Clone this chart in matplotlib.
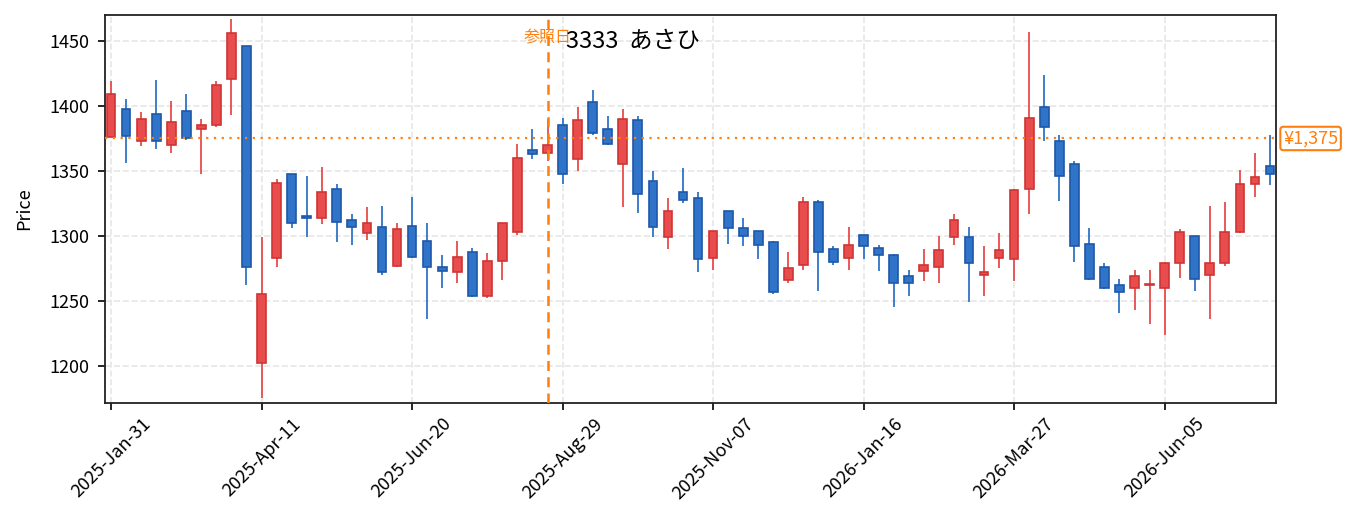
import numpy as np
import pandas as pd
import matplotlib
matplotlib.use("Agg")
import matplotlib.pyplot as plt
import matplotlib.transforms as mtransforms

plt.rcParams['font.family'] = ['Noto Sans CJK JP', 'DejaVu Sans']

ticker_title = "3333  あさひ"
start_date = "2025-01-31"
ref_index = 29
ref_price = 1375

opens = [1376, 1398, 1373, 1394, 1370, 1396, 1382, 1385, 1421, 1446,
         1202, 1283, 1348, 1315, 1314, 1336, 1312, 1302, 1307, 1277,
         1308, 1296, 1276, 1272, 1288, 1254, 1281, 1303, 1366, 1364,
         1385, 1359, 1403, 1382, 1355, 1389, 1342, 1299, 1334, 1329,
         1283, 1319, 1306, 1304, 1295, 1266, 1278, 1326, 1290, 1283,
         1301, 1291, 1285, 1269, 1273, 1276, 1299, 1299, 1270, 1283,
         1282, 1336, 1399, 1373, 1355, 1294, 1276, 1262, 1260, 1262,
         1260, 1279, 1300, 1270, 1279, 1303, 1340, 1354]
closes = [1409, 1377, 1390, 1373, 1388, 1375, 1385, 1416, 1456, 1276,
          1255, 1341, 1310, 1314, 1334, 1311, 1307, 1310, 1272, 1305,
          1284, 1276, 1273, 1284, 1254, 1281, 1310, 1360, 1363, 1370,
          1348, 1389, 1379, 1371, 1390, 1332, 1307, 1319, 1328, 1282,
          1304, 1306, 1300, 1293, 1257, 1275, 1326, 1288, 1280, 1293,
          1292, 1285, 1264, 1264, 1278, 1289, 1312, 1279, 1272, 1289,
          1335, 1391, 1384, 1346, 1292, 1267, 1260, 1257, 1269, 1263,
          1279, 1303, 1267, 1279, 1303, 1340, 1345, 1348]
highs = [1419, 1405, 1395, 1420, 1404, 1409, 1390, 1419, 1467, 1446,
         1299, 1344, 1348, 1346, 1353, 1340, 1317, 1322, 1323, 1310,
         1330, 1310, 1285, 1296, 1291, 1287, 1310, 1371, 1382, 1390,
         1391, 1399, 1412, 1392, 1398, 1392, 1350, 1329, 1352, 1334,
         1304, 1319, 1314, 1304, 1296, 1288, 1330, 1328, 1292, 1307,
         1301, 1293, 1286, 1274, 1290, 1300, 1317, 1307, 1292, 1302,
         1336, 1457, 1424, 1378, 1358, 1306, 1279, 1267, 1274, 1274,
         1280, 1305, 1300, 1323, 1326, 1351, 1364, 1378]
lows = [1376, 1356, 1369, 1367, 1364, 1374, 1348, 1384, 1393, 1262,
        1175, 1276, 1306, 1299, 1309, 1295, 1293, 1297, 1270, 1276,
        1283, 1236, 1260, 1264, 1253, 1252, 1266, 1301, 1359, 1358,
        1340, 1350, 1378, 1370, 1322, 1318, 1299, 1290, 1325, 1272,
        1274, 1294, 1292, 1282, 1255, 1264, 1274, 1258, 1278, 1274,
        1282, 1273, 1245, 1254, 1265, 1264, 1293, 1249, 1254, 1275,
        1265, 1317, 1373, 1327, 1280, 1266, 1259, 1241, 1243, 1232,
        1224, 1268, 1258, 1236, 1277, 1302, 1330, 1339]

dates = pd.date_range(start_date, periods=len(opens), freq="7D")

up_face, up_edge = "#e84c4c", "#cf3535"
down_face, down_edge = "#2f74c8", "#1e58a8"
orange = "#ff7f0e"

fig = plt.figure(figsize=(13.55, 5.32), dpi=100)
ax = fig.add_axes([0.0775, 0.2425, 0.8642, 0.7293])

width = 0.58
for i in range(len(opens)):
    o, c, h, l = opens[i], closes[i], highs[i], lows[i]
    up = c >= o
    face = up_face if up else down_face
    edge = up_edge if up else down_edge
    ax.vlines(i, l, h, color=face, linewidth=1.3, zorder=2)
    bottom = min(o, c)
    height = max(abs(c - o), 1.2)
    ax.bar(i, height, width=width, bottom=bottom, color=face,
           edgecolor=edge, linewidth=1.2, zorder=3)

ax.axhline(ref_price, color=orange, linestyle=(0, (1, 2.5)), linewidth=1.6, zorder=4)
ax.axvline(ref_index, color=orange, linestyle=(0, (4, 2.5)), linewidth=1.8, zorder=4)

trans = mtransforms.blended_transform_factory(ax.transData, ax.transAxes)
ax.text(ref_index, 0.962, "参照日", transform=trans, ha="center", va="top",
        color=orange, fontsize=11.5, zorder=5)
ax.text(0.394, 0.933, ticker_title, transform=ax.transAxes, ha="left",
        va="center", fontsize=17, zorder=5)

trans_y = mtransforms.blended_transform_factory(ax.transAxes, ax.transData)
ax.text(1.006, ref_price, f"¥{ref_price:,}", transform=trans_y, ha="left",
        va="center", color=orange, fontsize=13, clip_on=False,
        bbox=dict(boxstyle="round,pad=0.15", facecolor="white",
                  edgecolor=orange, linewidth=1.5))

ax.set_xlim(-0.4, len(opens) - 0.6)
ax.set_ylim(1171.5, 1470)
ticks = list(range(0, len(opens), 10))
ax.set_xticks(ticks)
ax.set_xticklabels([dates[t].strftime("%Y-%b-%d") for t in ticks],
                   rotation=45, ha="center", fontsize=13)
ax.set_yticks(np.arange(1200, 1451, 50))
ax.tick_params(axis="both", labelsize=13, length=5, width=1.2)
ax.tick_params(axis="y", pad=6)
ax.set_ylabel("Price", fontsize=13)
ax.yaxis.set_label_coords(-0.0615, 0.5)
ax.grid(True, linestyle="--", color="#e6e6e6", linewidth=1.2)
ax.set_axisbelow(True)
for s in ax.spines.values():
    s.set_color("#222222")
    s.set_linewidth(1.3)

fig.savefig("out.png", dpi=100)
